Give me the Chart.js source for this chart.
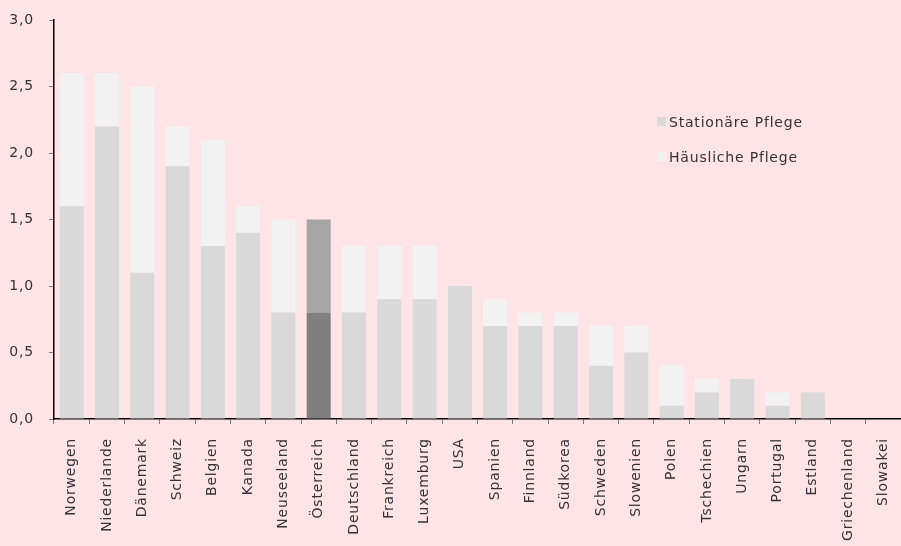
<!DOCTYPE html>
<html>
<head>
<meta charset="utf-8">
<script src="https://cdn.jsdelivr.net/npm/chart.js@4"></script>
<style>
  html, body { margin: 0; padding: 0; background: #fee4e6; }
  #wrap { position: relative; width: 901px; height: 546px; overflow: hidden; }
  canvas { display: block; }
  #legend { position: absolute; left: 657px; top: 111px; font-family: "DejaVu Sans", sans-serif; font-size: 14px; letter-spacing: 0.8px; color: #333; }
  #legend .item { display: flex; align-items: center; height: 21px; margin-bottom: 14px; }
  #legend .box { width: 9px; height: 9px; margin-right: 3px; }
</style>
</head>
<body>
<div id="wrap">
  <canvas id="c" width="901" height="546"></canvas>
  <div id="legend"></div>
</div>
<script>
const categories = ["Norwegen","Niederlande","Dänemark","Schweiz","Belgien","Kanada","Neuseeland","Österreich","Deutschland","Frankreich","Luxemburg","USA","Spanien","Finnland","Südkorea","Schweden","Slowenien","Polen","Tschechien","Ungarn","Portugal","Estland","Griechenland","Slowakei"];
const stationaer = [1.6,2.2,1.1,1.9,1.3,1.4,0.8,0.8,0.8,0.9,0.9,1.0,0.7,0.7,0.7,0.4,0.5,0.1,0.2,0.3,0.1,0.2,0,0];
const haeuslich  = [1.0,0.4,1.4,0.3,0.8,0.2,0.7,0.7,0.5,0.4,0.4,0,0.2,0.1,0.1,0.3,0.2,0.3,0.1,0,0.1,0,0,0];
const seriesNames = ["Stationäre Pflege","Häusliche Pflege"];
const yTicks = [0,0.5,1.0,1.5,2.0,2.5,3.0];
const highlight = "Österreich";

const statColors = categories.map(c => c === highlight ? "#7f7f7f" : "#d9d9d9");
const haeusColors = categories.map(c => c === highlight ? "#a5a5a5" : "#f2f2f2");

const FONT = "'DejaVu Sans', sans-serif";
Chart.defaults.font.family = FONT;
Chart.defaults.color = "#333";

const spacingPlugin = {
  id: "spacing",
  beforeLayout: c => { c.ctx.letterSpacing = "0.8px"; },
  beforeDraw: c => { c.ctx.letterSpacing = "0.8px"; }
};

const chart = new Chart(document.getElementById("c"), {
  type: "bar",
  plugins: [spacingPlugin],
  data: {
    labels: categories,
    datasets: [
      { label: seriesNames[0], data: stationaer, backgroundColor: statColors, legendColor: "#d9d9d9", categoryPercentage: 1, barPercentage: 0.68 },
      { label: seriesNames[1], data: haeuslich, backgroundColor: haeusColors, legendColor: "#f2f2f2", categoryPercentage: 1, barPercentage: 0.68 }
    ]
  },
  options: {
    responsive: false,
    animation: false,
    layout: { padding: { top: 20, right: 0, left: 0, bottom: 0 } },
    plugins: { legend: { display: false }, tooltip: { enabled: false } },
    scales: {
      x: {
        stacked: true,
        grid: { drawOnChartArea: false, drawTicks: true, tickLength: 5, color: "#7a7a7a" },
        border: { color: "#000", width: 1.5 },
        ticks: { minRotation: 90, maxRotation: 90, autoSkip: false, padding: 14, font: { size: 14 }, color: "#333" },
        afterFit: s => { s.height = 127; s.paddingRight = 0; s.paddingLeft = 0; }
      },
      y: {
        stacked: true,
        min: 0, max: 3,
        afterBuildTicks: s => { s.ticks = yTicks.map(v => ({ value: v })); },
        grid: { drawOnChartArea: false, drawTicks: true, tickLength: 5, color: "#7a7a7a" },
        border: { color: "#000", width: 1.5 },
        ticks: { padding: 15, font: { size: 14 }, color: "#333", callback: v => v.toFixed(1).replace(".", ",") },
        afterFit: s => { s.width = 54; s.paddingTop = 0; s.paddingBottom = 0; }
      }
    }
  }
});

const leg = document.getElementById("legend");
chart.data.datasets.forEach(ds => {
  const it = document.createElement("div"); it.className = "item";
  const b = document.createElement("span"); b.className = "box"; b.style.background = ds.legendColor;
  const t = document.createElement("span"); t.textContent = ds.label;
  it.appendChild(b); it.appendChild(t); leg.appendChild(it);
});
</script>
</body>
</html>
